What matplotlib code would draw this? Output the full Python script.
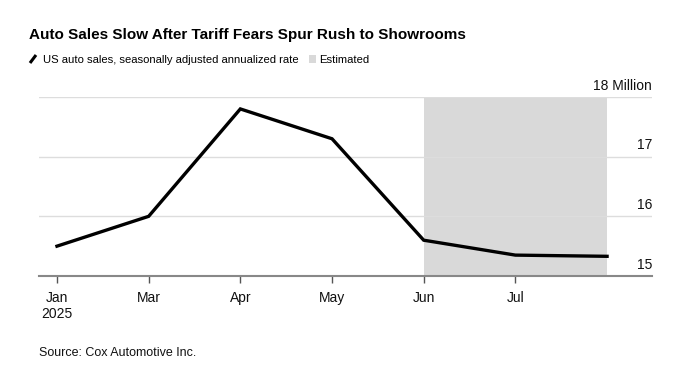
import matplotlib
matplotlib.use("Agg")
import matplotlib.pyplot as plt
from matplotlib.lines import Line2D
from matplotlib.patches import Rectangle
import matplotlib.transforms as mtransforms

plt.rcParams["font.family"] = ["Liberation Sans", "DejaVu Sans"]

# ─── 数据 ─────────────────────────────────────────────
months = ["Jan\n2025", "Mar", "Apr", "May", "Jun", "Jul", "Aug"]
sales = [15.5, 16.0, 17.8, 17.3, 15.6, 15.35, 15.33]   # 百万辆, SAAR
tick_labels = ["Jan\n2025", "Mar", "Apr", "May", "Jun", "Jul"]
y_ticks = [15, 16, 17, 18]
y_labels = ["15", "16", "17", "18 Million"]
est_start, est_end = 4, 6   # Jun → Aug 为估计值

W, H = 699, 373
fig = plt.figure(figsize=(W / 100, H / 100), dpi=100)

def px(x, y):
    return x / W, 1 - y / H

# 图区位置
left, top, right, bottom = 39, 97, 652, 276
ax = fig.add_axes([left / W, 1 - bottom / H, (right - left) / W, (bottom - top) / H])

x = list(range(len(sales)))
ax.axvspan(est_start, est_end, color="#d9d9d9", lw=0, zorder=0)
ax.plot(x, sales, color="black", lw=2.4, solid_joinstyle="miter", zorder=3)

ax.set_xlim(-0.196, 6.49)
ax.set_ylim(15, 18)

# 网格 + 右侧标签（在线上方）
ax.set_yticks(y_ticks)
ax.set_yticklabels([])
ax.tick_params(axis="y", length=0)
ax.grid(axis="y", color="#dddddd", lw=1, zorder=1)
trans = mtransforms.blended_transform_factory(ax.transAxes, ax.transData)
for v, lab in zip(y_ticks, y_labels):
    ax.text(1.0, v + 0.07, lab, transform=trans, ha="right", va="bottom",
            fontsize=10, color="#111111", clip_on=False)

ax.set_xticks(range(len(tick_labels)))
ax.set_xticklabels(tick_labels, fontsize=10, color="#111111", linespacing=1.15)
ax.tick_params(axis="x", length=5, width=1, color="#555555", pad=6)

for s in ["top", "right", "left"]:
    ax.spines[s].set_visible(False)
ax.spines["bottom"].set_color("#888888")
ax.spines["bottom"].set_linewidth(1.5)
ax.set_axisbelow(True)

# 标题与图例（原图为窄体字，这里缩小字号以对齐宽度）
fig.text(*px(29, 39), "Auto Sales Slow After Tariff Fears Spur Rush to Showrooms",
         fontsize=10.95, fontweight="bold", ha="left", va="baseline")
fig.add_artist(Line2D([30 / W, 36 / W], [1 - 63 / H, 1 - 55 / H], color="black",
                      lw=2.2, solid_capstyle="butt"))
sub = fig.text(*px(43, 63), "US auto sales, seasonally adjusted annualized rate",
               fontsize=8.1, ha="left", va="baseline")

# 按副标题实际宽度放置 "Estimated" 图例
renderer = fig.canvas.get_renderer()
x_end = sub.get_window_extent(renderer).x1
fig.add_artist(Rectangle(((x_end + 10) / W, 1 - 63 / H), 7 / W, 8 / H,
                         color="#d9d9d9", lw=0, transform=fig.transFigure))
fig.text((x_end + 21) / W, 1 - 63 / H, "Estimated", fontsize=8.1, ha="left",
         va="baseline")

fig.text(*px(39, 356), "Source: Cox Automotive Inc.", fontsize=9, ha="left",
         va="baseline", color="#111111")

fig.savefig("out.png", dpi=100)
